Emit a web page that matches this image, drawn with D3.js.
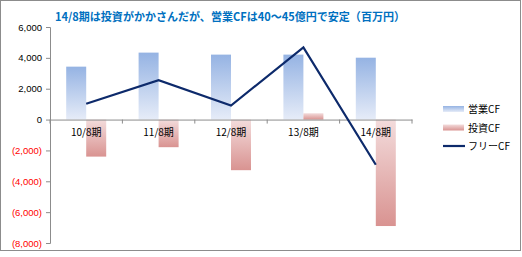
<!DOCTYPE html>
<html>
<head>
<meta charset="utf-8">
<script src="https://cdn.jsdelivr.net/npm/d3@7"></script>
<style>
  body { margin: 0; background: #fff; }
  text { font-family: "Liberation Sans", Arial, sans-serif; }
</style>
</head>
<body>
<div id="chart"></div>
<script>
var categories = ["10/8期", "11/8期", "12/8期", "13/8期", "14/8期"];
var operatingCF = [3430, 4340, 4210, 4210, 4010];
var investingCF = [-2400, -1790, -3280, 410, -6900];
var freeCF = [1030, 2550, 910, 4680, -2930];
var yTicks = [6000, 4000, 2000, 0, -2000, -4000, -6000, -8000];
var seriesNames = ["営業CF", "投資CF", "フリーCF"];
var title = "14/8期は投資がかかさんだが、営業CFは40～45億円で安定（百万円）";

var svgWidth = 522, svgHeight = 257;
var margin = { top: 27, left: 50 };
var chartWidth = 362, chartHeight = 216;

var svg = d3.select("#chart").append("svg")
  .attr("width", svgWidth)
  .attr("height", svgHeight);

var defs = svg.append("defs");
var blueGrad = defs.append("linearGradient").attr("id", "blueGrad")
  .attr("x1", 0).attr("y1", 0).attr("x2", 0).attr("y2", 1);
blueGrad.append("stop").attr("offset", "0%").attr("stop-color", "#95b3e3");
blueGrad.append("stop").attr("offset", "100%").attr("stop-color", "#e6ecf8");
var redGrad = defs.append("linearGradient").attr("id", "redGrad")
  .attr("x1", 0).attr("y1", 0).attr("x2", 0).attr("y2", 1);
redGrad.append("stop").attr("offset", "0%").attr("stop-color", "#f3dcdc");
redGrad.append("stop").attr("offset", "100%").attr("stop-color", "#d99391");

// frame
svg.append("rect")
  .attr("x", 0.5).attr("y", 0.5)
  .attr("width", 520).attr("height", 250)
  .attr("fill", "none").attr("stroke", "#8c8c8c");

svg.append("text")
  .attr("x", 55).attr("y", 21)
  .attr("fill", "#0070c0")
  .attr("font-size", 11.5)
  .attr("font-weight", "bold")
  .attr("textLength", 350)
  .attr("lengthAdjust", "spacingAndGlyphs")
  .style("font-family", "'Noto Sans CJK JP', sans-serif")
  .text(title);

var chartGroup = svg.append("g")
  .attr("transform", `translate(${margin.left}, ${margin.top})`);

var xScale = d3.scaleBand()
  .domain(categories)
  .range([0, chartWidth]);

var yScale = d3.scaleLinear()
  .domain([-8000, 6000])
  .range([chartHeight, 0]);

var barW = 20;

// y axis
var yAxis = d3.axisLeft(yScale)
  .tickValues(yTicks)
  .tickSize(4)
  .tickFormat(function (d) {
    var s = d3.format(",")(Math.abs(d));
    return d < 0 ? "(" + s + ")" : s;
  });
var yg = chartGroup.append("g").call(yAxis);
yg.select(".domain").attr("stroke", "#8c8c8c");
yg.selectAll(".tick line").attr("stroke", "#8c8c8c");
yg.selectAll(".tick text")
  .attr("font-size", 9.5)
  .attr("x", -8)
  .style("font-family", "'Liberation Sans', Arial, sans-serif")
  .attr("fill", function (d) { return d < 0 ? "#ff0000" : "#000"; });

// bars
chartGroup.selectAll(".opBar")
  .data(operatingCF)
  .enter()
  .append("rect")
  .attr("class", "opBar")
  .attr("x", (d, i) => xScale(categories[i]) + xScale.bandwidth() / 2 - barW)
  .attr("y", d => yScale(Math.max(0, d)))
  .attr("width", barW)
  .attr("height", d => Math.abs(yScale(d) - yScale(0)))
  .attr("fill", "url(#blueGrad)");

chartGroup.selectAll(".invBar")
  .data(investingCF)
  .enter()
  .append("rect")
  .attr("class", "invBar")
  .attr("x", (d, i) => xScale(categories[i]) + xScale.bandwidth() / 2)
  .attr("y", d => yScale(Math.max(0, d)))
  .attr("width", barW)
  .attr("height", d => Math.abs(yScale(d) - yScale(0)))
  .attr("fill", "url(#redGrad)");

// x axis at zero
var xAxis = d3.axisBottom(xScale).tickSize(4).tickSizeOuter(0).tickFormat("");
var xg = chartGroup.append("g")
  .attr("transform", `translate(0, ${yScale(0)})`)
  .call(xAxis);
xg.select(".domain").attr("stroke", "#8c8c8c");
xg.selectAll(".tick").remove();
xg.selectAll(".sep")
  .data(d3.range(categories.length + 1))
  .enter()
  .append("line")
  .attr("x1", i => i * xScale.step())
  .attr("x2", i => i * xScale.step())
  .attr("y1", 0).attr("y2", 4)
  .attr("stroke", "#8c8c8c");

chartGroup.selectAll(".catLabel")
  .data(categories)
  .enter()
  .append("text")
  .attr("class", "catLabel")
  .attr("x", d => xScale(d) + xScale.bandwidth() / 2)
  .attr("y", yScale(0) + 16)
  .attr("text-anchor", "middle")
  .attr("font-size", 10)
  .style("font-family", "'Noto Sans CJK JP', sans-serif")
  .text(d => d);

// free CF line
var line = d3.line()
  .x((d, i) => xScale(categories[i]) + xScale.bandwidth() / 2)
  .y(d => yScale(d));
chartGroup.append("path")
  .datum(freeCF)
  .attr("d", line)
  .attr("fill", "none")
  .attr("stroke", "#0d2a6b")
  .attr("stroke-width", 2.2)
  .attr("stroke-linejoin", "miter");

// legend
var legend = svg.append("g").attr("transform", "translate(443, 109)");
var legendFills = ["url(#blueGrad)", "url(#redGrad)", null];
seriesNames.forEach(function (name, i) {
  var g = legend.append("g").attr("transform", `translate(0, ${i * 18.5})`);
  if (legendFills[i]) {
    g.append("rect").attr("x", 0).attr("y", -3).attr("width", 21).attr("height", 6)
      .attr("fill", legendFills[i]);
  } else {
    g.append("line").attr("x1", 0).attr("x2", 22).attr("y1", 0).attr("y2", 0)
      .attr("stroke", "#0d2a6b").attr("stroke-width", 2.2);
  }
  g.append("text")
    .attr("x", 25).attr("y", 4)
    .attr("font-size", 10)
    .style("font-family", "'Noto Sans CJK JP', sans-serif")
    .text(name);
});
</script>
</body>
</html>
